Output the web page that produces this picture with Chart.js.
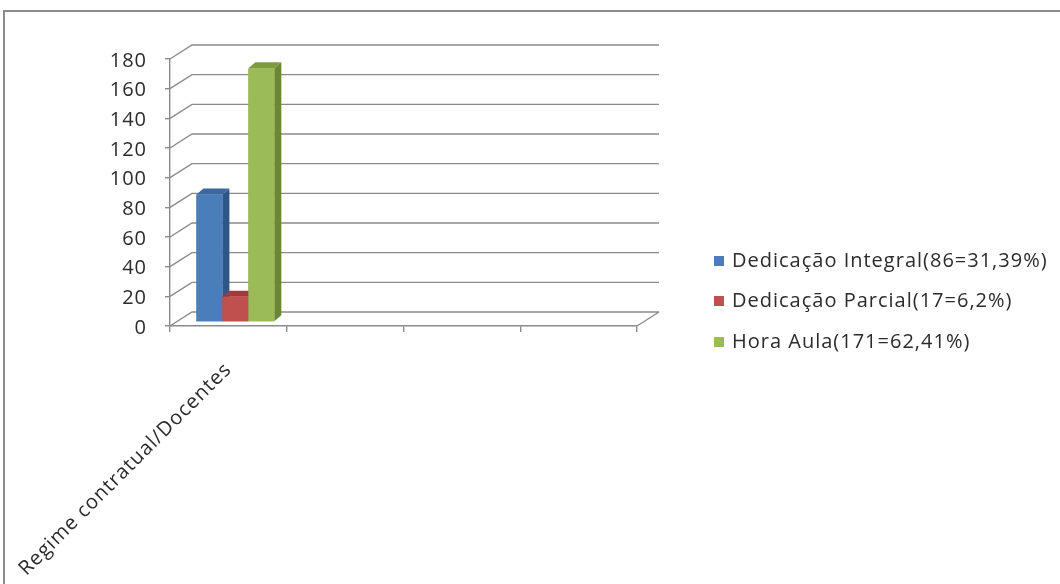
<!DOCTYPE html>
<html>
<head>
<meta charset="utf-8">
<script src="https://cdn.jsdelivr.net/npm/chart.js@4.4.1/dist/chart.umd.min.js"></script>
<style>
  html, body { margin: 0; padding: 0; background: #fff; }
  #wrap { width: 1060px; height: 584px; }
</style>
</head>
<body>
<div id="wrap"><canvas id="chart" width="1060" height="584"></canvas></div>
<script>
const categories = ["Regime contratual/Docentes", "", "", ""];
const seriesNames = ["Dedicação Integral(86=31,39%)", "Dedicação Parcial(17=6,2%)", "Hora Aula(171=62,41%)"];
const integral = [86, null, null, null];
const parcial = [17, null, null, null];
const horaAula = [171, null, null, null];
const yMax = 180;
const yStep = 20;

const GRID = "#8a8a8a";
const TEXT = "#2b2b2b";
const FONT = "'Open Sans', sans-serif";

// back wall offset and bar depth (the fake 3D)
const WALL_DX = 22, WALL_DY = -14;
const BAR_SHIFT_X = 7, BAR_SHIFT_Y = -4;
const BAR_DX = 7, BAR_DY = -6;

const frame = {
  id: "frame",
  beforeDraw(chart) {
    const ctx = chart.ctx;
    // the original text is a little wider than Open Sans
    ctx.letterSpacing = "1px";
    ctx.save();
    ctx.strokeStyle = "#8c8c8c";
    ctx.lineWidth = 2;
    ctx.beginPath();
    ctx.moveTo(4, 584);
    ctx.lineTo(4, 11);
    ctx.lineTo(1060, 11);
    ctx.stroke();
    ctx.restore();
  }
};

const threeD = {
  id: "threeD",
  beforeDatasetsDraw(chart) {
    const ctx = chart.ctx;
    const { left, right, bottom } = chart.chartArea;
    const y = chart.scales.y;
    ctx.save();
    ctx.strokeStyle = GRID;
    ctx.lineWidth = 1.4;
    ctx.beginPath();
    y.ticks.forEach(t => {
      const py = y.getPixelForValue(t.value);
      ctx.moveTo(left, py);
      ctx.lineTo(left + WALL_DX, py + WALL_DY);
      ctx.lineTo(right + WALL_DX, py + WALL_DY);
    });
    ctx.moveTo(right, bottom);
    ctx.lineTo(right + WALL_DX, bottom + WALL_DY);
    ctx.stroke();
    ctx.restore();

    ctx.save();
    ctx.translate(BAR_SHIFT_X, BAR_SHIFT_Y);
  },
  afterDatasetsDraw(chart) {
    const ctx = chart.ctx;
    chart.data.datasets.forEach((ds, i) => {
      const meta = chart.getDatasetMeta(i);
      meta.data.forEach((el, j) => {
        if (ds.data[j] == null) return;
        const { x, y, base, width } = el.getProps(["x", "y", "base", "width"], true);
        const l = x - width / 2, r = x + width / 2;
        ctx.fillStyle = ds.sideColor;
        ctx.beginPath();
        ctx.moveTo(r, y);
        ctx.lineTo(r + BAR_DX, y + BAR_DY);
        ctx.lineTo(r + BAR_DX, base + BAR_DY);
        ctx.lineTo(r, base);
        ctx.closePath();
        ctx.fill();
        ctx.fillStyle = ds.topColor;
        ctx.beginPath();
        ctx.moveTo(l, y);
        ctx.lineTo(l + BAR_DX, y + BAR_DY);
        ctx.lineTo(r + BAR_DX, y + BAR_DY);
        ctx.lineTo(r, y);
        ctx.closePath();
        ctx.fill();
        ctx.fillStyle = ds.backgroundColor;
        ctx.fillRect(l, y, width, base - y);
      });
    });
    ctx.restore();
  }
};

const sideLegend = {
  id: "sideLegend",
  afterDraw(chart) {
    const ctx = chart.ctx;
    const x0 = 714, rows = [261, 301, 342];
    ctx.save();
    ctx.font = "20px " + FONT;
    ctx.textBaseline = "middle";
    ctx.textAlign = "left";
    chart.data.datasets.forEach((ds, i) => {
      ctx.fillStyle = ds.backgroundColor;
      ctx.fillRect(x0, rows[i] - 5, 10, 10);
      ctx.fillStyle = TEXT;
      ctx.fillText(ds.label, x0 + 18, rows[i]);
    });
    ctx.restore();
  }
};

new Chart(document.getElementById("chart"), {
  type: "bar",
  data: {
    labels: categories,
    datasets: [
      { label: seriesNames[0], data: integral, backgroundColor: "#4a7ebb", sideColor: "#2f5785", topColor: "#3b68a0" },
      { label: seriesNames[1], data: parcial, backgroundColor: "#c0504d", sideColor: "#8c3533", topColor: "#9e3c39" },
      { label: seriesNames[2], data: horaAula, backgroundColor: "#9bbb59", sideColor: "#6a8636", topColor: "#7d9c40" }
    ]
  },
  options: {
    responsive: false,
    animation: false,
    devicePixelRatio: 1,
    layout: { padding: { top: 59, left: 0, right: 423, bottom: 0 } },
    datasets: { bar: { barPercentage: 1, categoryPercentage: 0.667, borderWidth: 0 } },
    plugins: { legend: { display: false }, tooltip: { enabled: false } },
    scales: {
      x: {
        offset: true,
        grid: { drawOnChartArea: false, drawTicks: true, tickLength: 6, color: GRID, lineWidth: 1.4, offset: true },
        border: { display: true, color: GRID, width: 1.4 },
        ticks: { autoSkip: false, minRotation: 45, maxRotation: 45, padding: 26, color: TEXT, font: { family: FONT, size: 20 } },
        afterFit(s) { s.height = 258; s.paddingLeft = 0; s.paddingRight = 0; }
      },
      y: {
        min: 0,
        max: yMax,
        grid: { drawOnChartArea: false, drawTicks: true, tickLength: 5, color: GRID, lineWidth: 1.4 },
        border: { display: true, color: GRID, width: 1.4 },
        ticks: { stepSize: yStep, padding: 18, labelOffset: 2, color: TEXT, font: { family: FONT, size: 20 } },
        afterFit(s) { s.width = 170; }
      }
    }
  },
  plugins: [frame, threeD, sideLegend]
});
</script>
</body>
</html>
